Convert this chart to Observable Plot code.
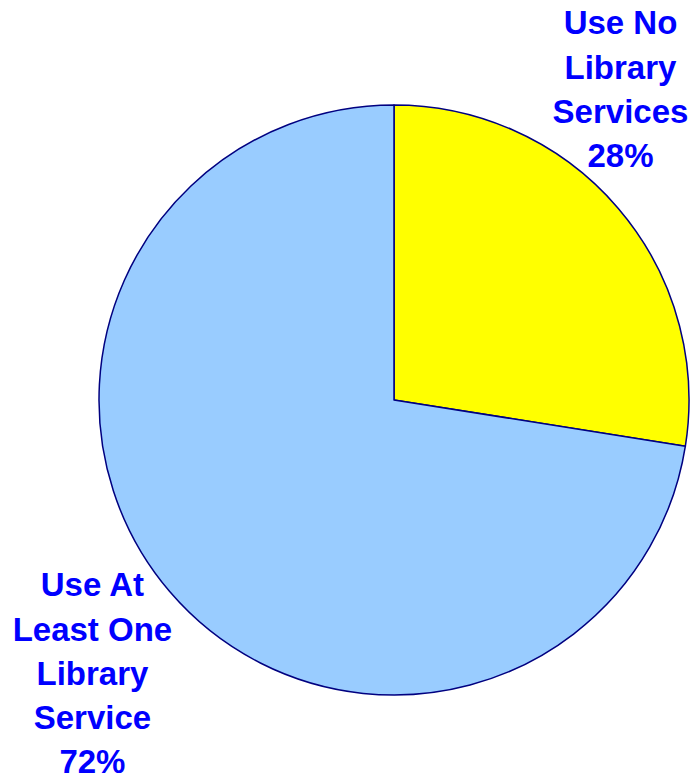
<!DOCTYPE html>
<html>
<head>
<meta charset="utf-8">
<script src="https://cdn.jsdelivr.net/npm/d3@7"></script>
<script src="https://cdn.jsdelivr.net/npm/@observablehq/plot@0.6"></script>
<style>
  html, body { margin: 0; padding: 0; background: #fff; }
</style>
</head>
<body>
<div id="chart"></div>
<script>
// ---- data ----
const categories = ["Use No Library Services", "Use At Least One Library Service"];
const shares = [27.5, 72.5];
const labelLines = [
  ["Use No", "Library", "Services", "28%"],
  ["Use At", "Least One", "Library", "Service", "72%"]
];
const sliceColors = ["#FFFF00", "#99CCFF"];

// ---- layout (label anchors in unit-circle coordinates) ----
const labelX = [0.766, -1.024];
const labelY = [1.064, -0.916];

const data = categories.map((c, i) => ({
  category: c,
  share: shares[i],
  label: labelLines[i].join("\n"),
  lx: labelX[i],
  ly: labelY[i]
}));

const pieMark = (index, scales) => {
  const cx = scales.x(0), cy = scales.y(0);
  const r = scales.x(1) - scales.x(0);
  const arcs = d3.pie().sort(null).value(d => d.share)(data);
  const arc = d3.arc().innerRadius(0).outerRadius(r);
  const g = d3.create("svg:g").attr("transform", `translate(${cx},${cy})`);
  g.selectAll("path").data(arcs).join("path")
    .attr("d", arc)
    .attr("fill", (d, i) => sliceColors[i])
    .attr("stroke", "#000080")
    .attr("stroke-width", 1.5)
    .attr("stroke-linejoin", "round");
  return g.node();
};

const chart = Plot.plot({
  width: 690,
  height: 776,
  margin: 0,
  x: {domain: [-1, 1], range: [99, 689], axis: null},
  y: {domain: [-1, 1], range: [695, 105], axis: null},
  style: {background: "#fff"},
  marks: [
    pieMark,
    Plot.text(data, {
      x: "lx",
      y: "ly",
      text: "label",
      fill: "#0000FF",
      fontSize: 33,
      fontWeight: "bold",
      fontFamily: "Liberation Sans, Arial, sans-serif",
      lineHeight: 1.34,
      textAnchor: "middle"
    })
  ]
});
document.getElementById("chart").appendChild(chart);
</script>
</body>
</html>
